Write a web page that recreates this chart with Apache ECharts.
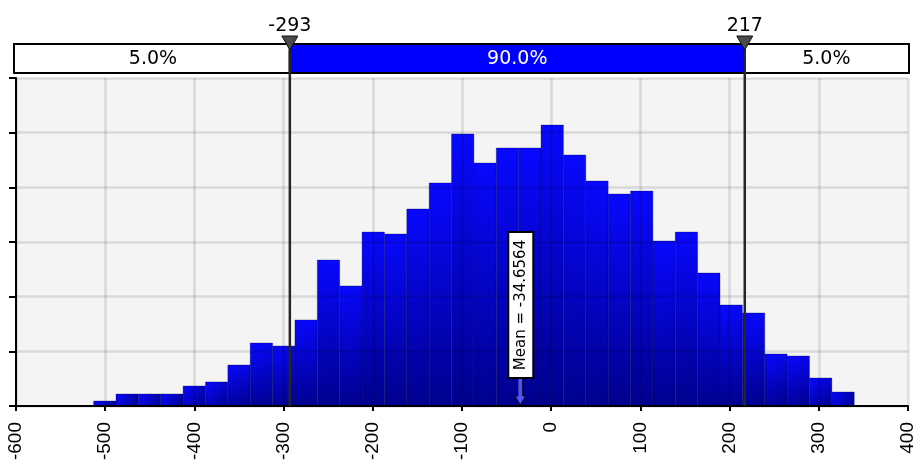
<!DOCTYPE html>
<html>
<head>
<meta charset="utf-8">
<script src="https://cdn.jsdelivr.net/npm/echarts@6/dist/echarts.min.js"></script>
<style>
html, body { margin: 0; padding: 0; background: #fff; }
#main { width: 918px; height: 463px; }
</style>
</head>
<body>
<div id="main"></div>
<script>
// histogram (probability density per bin)
var binStart = -513;
var binWidth = 25.08;
var density = [
  0.000046, 0.00011, 0.00011, 0.00011, 0.000183, 0.00022, 0.000375, 0.000576, 0.000549, 0.000787,
  0.001335, 0.001098, 0.001591, 0.001573, 0.001802, 0.00204, 0.002488, 0.002222, 0.00236, 0.00236,
  0.00257, 0.002296, 0.002058, 0.001939, 0.001966, 0.001509, 0.001591, 0.001216, 0.000924, 0.000851,
  0.000476, 0.000457, 0.000256, 0.000128
];

// percentile band on top
var bandEdges = [-600, -293, 217, 400];
var bandLabels = ['5.0%', '90.0%', '5.0%'];
var markers = [-293, 217];
var markerLabels = ['-293', '217'];

var meanValue = -34.6564;
var meanLabel = 'Mean = -34.6564';

// axes
var xMin = -600, xMax = 400, xStep = 100;
var yMax = 0.003, yStep = 0.0005;

var FONT = 'DejaVu Sans';
var AXIS_FONT = "'Liberation Sans', Arial, sans-serif";

var bins = density.map(function (d, i) {
  return [binStart + i * binWidth, binStart + (i + 1) * binWidth, d];
});
var bandData = bandLabels.map(function (t, i) {
  return [bandEdges[i], bandEdges[i + 1], i];
});
var markerData = markers.map(function (v, i) { return [v, i]; });

var chart = echarts.init(document.getElementById('main'));

var gridLine = { show: true, lineStyle: { color: 'rgba(0,0,0,0.11)', width: 2.5 } };

var option = {
  animation: false,
  backgroundColor: '#fff',
  grid: [
    { left: 16, right: 10, top: 78, bottom: 57, outerBoundsMode: 'none', containLabel: false,
      show: true, backgroundColor: '#f4f4f4', borderWidth: 0 },
    { left: 16, right: 10, top: 44, height: 29, outerBoundsMode: 'none' }
  ],
  xAxis: [
    {
      type: 'value', min: xMin, max: xMax, interval: xStep, z: 3,
      axisLine: { onZero: false, lineStyle: { color: '#000', width: 2 } },
      axisTick: { length: 5, lineStyle: { color: '#000', width: 2 } },
      axisLabel: { rotate: 90, margin: 16, fontSize: 19, fontFamily: AXIS_FONT, color: '#000' },
      splitLine: gridLine
    },
    { type: 'value', gridIndex: 1, min: xMin, max: xMax, show: false }
  ],
  yAxis: [
    {
      type: 'value', min: 0, max: yMax, interval: yStep, z: 3,
      axisLine: { show: true, onZero: false, lineStyle: { color: '#000', width: 2 } },
      axisTick: { show: true, length: 7, lineStyle: { color: '#000', width: 2 } },
      axisLabel: { show: false },
      splitLine: gridLine
    },
    { type: 'value', gridIndex: 1, min: 0, max: 1, show: false }
  ],
  series: [
    {
      name: 'hist', type: 'custom', z: 2,
      data: bins,
      encode: { x: [0, 1], y: 2 },
      renderItem: function (params, api) {
        var a = api.coord([api.value(0), api.value(2)]);
        var b = api.coord([api.value(1), 0]);
        return {
          type: 'rect',
          shape: { x: a[0], y: a[1], width: b[0] - a[0], height: b[1] - a[1] },
          style: {
            fill: new echarts.graphic.LinearGradient(0, 0, 1, 1, [
              { offset: 0, color: '#0808ff' },
              { offset: 1, color: '#00008c' }
            ]),
            stroke: 'rgba(0,0,70,0.3)',
            lineWidth: 1
          }
        };
      }
    },
    {
      name: 'band', type: 'custom', xAxisIndex: 1, yAxisIndex: 1, z: 3,
      data: bandData,
      encode: { x: [0, 1] },
      renderItem: function (params, api) {
        var i = api.value(2);
        var a = api.coord([api.value(0), 1]);
        var b = api.coord([api.value(1), 0]);
        var mid = i === 1;
        // outer segments reach the band's frame a little beyond the plot
        var x0 = i === 0 ? a[0] - 2 : a[0];
        var x1 = i === 2 ? b[0] + 1 : b[0];
        return {
          type: 'group',
          children: [
            {
              type: 'rect',
              shape: { x: x0, y: a[1], width: x1 - x0, height: b[1] - a[1] },
              style: { fill: mid ? '#0000ff' : '#fff', stroke: '#000', lineWidth: 2 }
            },
            {
              type: 'text',
              x: (a[0] + b[0]) / 2, y: (a[1] + b[1]) / 2 + 1,
              style: {
                text: bandLabels[i], fill: mid ? '#fff' : '#000',
                font: '19px ' + FONT, align: 'center', verticalAlign: 'middle'
              }
            }
          ]
        };
      }
    },
    {
      name: 'pctLines', type: 'custom', z: 5, clip: false,
      data: markerData,
      encode: { x: 0 },
      renderItem: function (params, api) {
        var bot = api.coord([api.value(0), 0]);
        var top = api.coord([api.value(0), yMax]);
        return {
          type: 'line',
          shape: { x1: bot[0], y1: bot[1], x2: bot[0], y2: top[1] - 28 },
          style: { stroke: '#262626', lineWidth: 2.5 }
        };
      }
    },
    {
      name: 'pctMarkers', type: 'custom', xAxisIndex: 1, yAxisIndex: 1, z: 6, clip: false,
      data: markerData,
      encode: { x: 0 },
      renderItem: function (params, api) {
        var p = api.coord([api.value(0), 1]);
        return {
          type: 'group',
          children: [
            {
              type: 'polygon',
              shape: { points: [[p[0] - 8, p[1] - 8], [p[0] + 8, p[1] - 8], [p[0], p[1] + 6]] },
              style: { fill: '#4a4a4a', stroke: '#111', lineWidth: 1 }
            },
            {
              type: 'text',
              x: p[0], y: p[1] - 8,
              style: {
                text: markerLabels[api.value(1)], fill: '#000',
                font: '19px ' + FONT, align: 'center', verticalAlign: 'bottom'
              }
            }
          ]
        };
      }
    },
    {
      name: 'mean', type: 'custom', z: 10, clip: false,
      data: [[meanValue, 0]],
      encode: { x: 0, y: 1 },
      renderItem: function (params, api) {
        var p = api.coord([api.value(0), 0]);
        var x = p[0], y0 = p[1] - 1;
        var boxBot = y0 - 27, boxH = 146;
        return {
          type: 'group',
          children: [
            {
              type: 'polygon',
              shape: { points: [
                [x - 2.5, boxBot], [x + 2.5, boxBot], [x + 2.5, y0 - 9], [x + 5.5, y0 - 9],
                [x, y0], [x - 5.5, y0 - 9], [x - 2.5, y0 - 9]
              ] },
              style: { fill: '#5050ff', stroke: '#000', lineWidth: 1 }
            },
            {
              type: 'rect',
              shape: { x: x - 12, y: boxBot - boxH, width: 25, height: boxH },
              style: { fill: '#fff', stroke: '#000', lineWidth: 2 }
            },
            {
              type: 'text',
              x: x + 1, y: boxBot - boxH / 2, rotation: Math.PI / 2,
              style: {
                text: meanLabel, fill: '#000',
                font: '15px ' + FONT, align: 'center', verticalAlign: 'middle'
              }
            }
          ]
        };
      }
    }
  ]
};

option && chart.setOption(option);
</script>
</body>
</html>
